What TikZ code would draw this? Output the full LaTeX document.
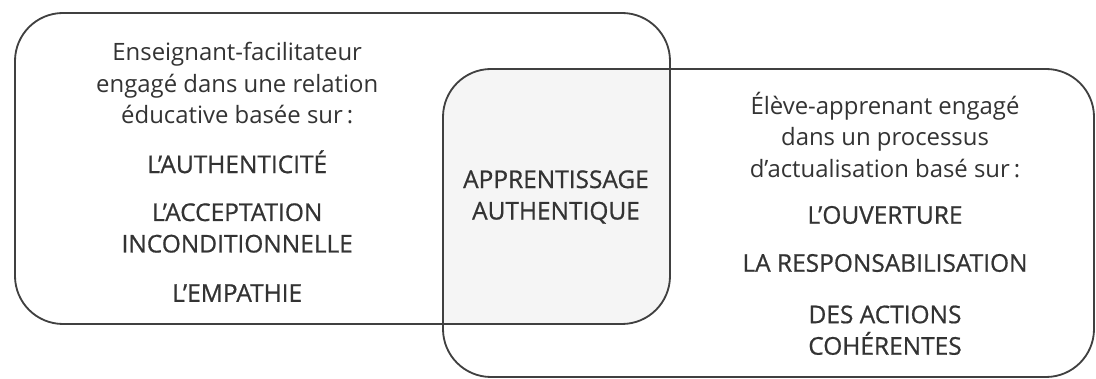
\documentclass[tikz,border=0pt]{standalone}
\usepackage{fontspec}
\setmainfont{Open Sans}
\newfontfamily\capsfont[FakeBold=0.7]{Open Sans}

\begin{document}
\begin{tikzpicture}[
  cadre/.style = {draw=black!75,line width=1.3pt,rounded corners=1.2cm},
  txt/.style = {align=center,text=black!80,
        font=\fontsize{17}{22.4}\selectfont},
  majus/.style = {txt,font=\capsfont\fontsize{17.4}{22.4}\selectfont}]
 \useasboundingbox (0,0) rectangle (27.4,9.475);
 % zone commune
 \begin{scope}
  \clip[rounded corners=1.2cm] (0.375,1.375) rectangle (16.75,9.15);
  \fill[black!4,rounded corners=1.2cm] (11.075,0.05) rectangle (27.35,7.75);
 \end{scope}
 \draw[cadre] (0.375,1.375) rectangle (16.75,9.15);
 \draw[cadre] (11.075,0.05) rectangle (27.35,7.75);
 % enseignant
 \node[txt] (e1) at (5.93,7.39) {Enseignant-facilitateur\\
 engagé dans une relation\\ éducative basée sur\,:};
 \node[majus] (e2) at (5.93,5.43) {L’AUTHENTICITÉ};
 \node[majus] (e3) at (5.93,3.775) {L’ACCEPTATION\\ INCONDITIONNELLE};
 \node[majus] (e4) at (5.93,2.15) {L’EMPATHIE};
 % apprentissage
 \node[majus] (m1) at (13.9,4.55) {APPRENTISSAGE\\ AUTHENTIQUE};
 % apprenant
 \node[txt] (a1) at (22.125,6.1) {Élève-apprenant engagé\\
 dans un processus\\ d’actualisation basé sur\,:};
 \node[majus] (a2) at (22.125,4.1) {L’OUVERTURE};
 \node[majus] (a3) at (22.125,2.9) {LA RESPONSABILISATION};
 \node[majus] (a4) at (22.125,1.22) {DES ACTIONS\\ COHÉRENTES};
\end{tikzpicture}
\end{document}
